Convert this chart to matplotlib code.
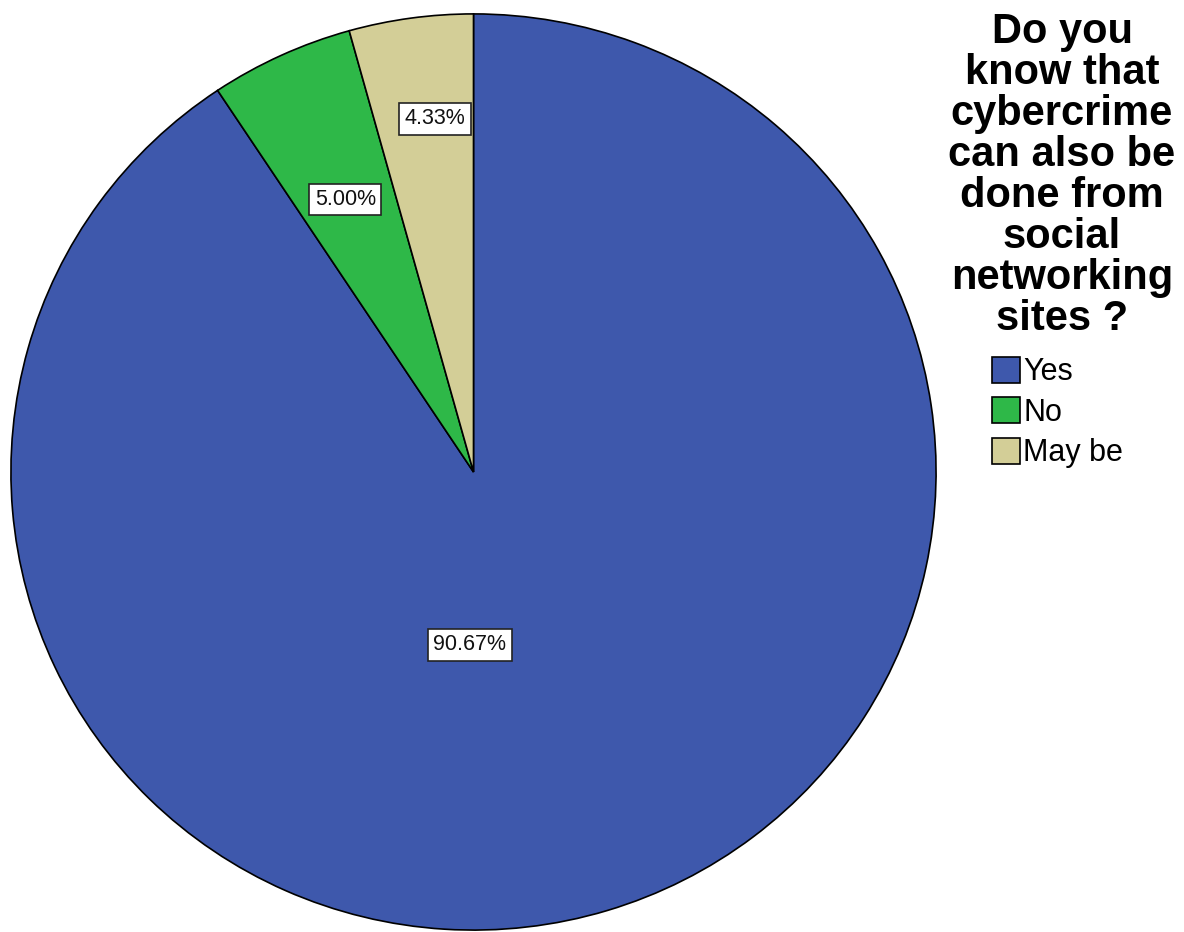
import matplotlib.pyplot as plt

answers = ["Yes", "No", "May be"]
percents = [90.67, 5.00, 4.33]
colors = ["#3E58AC", "#2EB848", "#D3CE97"]
question = "Do you\nknow that\ncybercrime\ncan also be\ndone from\nsocial\nnetworking\nsites ?"

W, H = 1184, 932
fig = plt.figure(figsize=(W / 100, H / 100), dpi=100)
plt.rcParams['font.family'] = ['Liberation Sans', 'DejaVu Sans']

# pie box in pixels: left 10, right 937, top 13, bottom 931
ax = fig.add_axes([10 / W, 1 - 931 / H, 927 / W, 918 / H])
wedges, texts, autotexts = ax.pie(
    percents, colors=colors, startangle=90, counterclock=False,
    autopct=lambda p: f"{p:.2f}%", pctdistance=0.66,
    wedgeprops=dict(edgecolor="black", linewidth=1.2),
    textprops=dict(fontsize=15.5, color="#111111"))
ax.set_xlim(-1.002, 1.002)
ax.set_ylim(-1.002, 1.002)
ax.set_aspect('auto')
ax.axis('off')

# nudge the percent labels into place
label_xy = [(-0.008, -0.377), (-0.277, 0.595), (-0.083, 0.771)]
for t, xy in zip(autotexts, label_xy):
    t.set_position(xy)
    t.set_bbox(dict(facecolor="white", edgecolor="#222222", linewidth=1.2,
                    boxstyle="square,pad=0.25"))

fig.text(1062 / W, 1 - 12 / H, question, ha='center', va='top',
         multialignment='center', fontsize=30, fontweight='bold',
         linespacing=1.03)

fig.legend(wedges, answers, loc='upper left',
           bbox_to_anchor=(992 / W, 1 - 357 / H), frameon=False,
           fontsize=22, handlelength=0.92, handleheight=0.92,
           handletextpad=0.1, labelspacing=0.33, borderpad=0,
           borderaxespad=0)

fig.savefig("out.png", dpi=100)
